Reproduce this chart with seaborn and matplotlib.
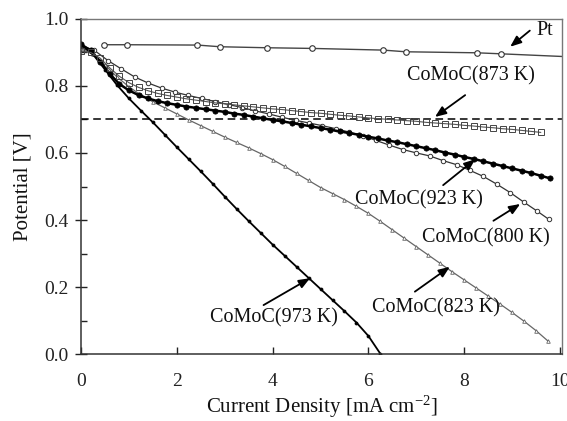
import matplotlib
matplotlib.use("Agg")
import matplotlib.pyplot as plt
import pandas as pd
import seaborn as sns

# values
pt_x = [0.48, 0.95, 2.43, 2.90, 3.88, 4.83, 6.31, 6.78, 8.26, 8.76, 10.05]
pt_v = [0.922, 0.922, 0.921, 0.916, 0.913, 0.911, 0.906, 0.901, 0.898, 0.895, 0.887]

k873_x = [0.0, 0.2, 0.4, 0.6, 0.8, 1.0, 1.2, 1.4, 1.6, 1.8,
          2.0, 2.2, 2.4, 2.6, 2.8, 3.0, 3.2, 3.4, 3.6, 3.8,
          4.0, 4.2, 4.4, 4.6, 4.8, 5.0, 5.2, 5.4, 5.6, 5.8,
          6.0, 6.2, 6.4, 6.6, 6.8, 7.0, 7.2, 7.4, 7.6, 7.8,
          8.0, 8.2, 8.4, 8.6, 8.8, 9.0, 9.2, 9.4, 9.6]
k873_v = [0.903, 0.899, 0.882, 0.853, 0.828, 0.809, 0.795, 0.785, 0.777, 0.771,
          0.766, 0.761, 0.757, 0.753, 0.749, 0.746, 0.743, 0.740, 0.737, 0.734,
          0.731, 0.729, 0.726, 0.723, 0.720, 0.718, 0.715, 0.712, 0.710, 0.707,
          0.704, 0.702, 0.700, 0.698, 0.696, 0.694, 0.691, 0.689, 0.687, 0.685,
          0.682, 0.680, 0.677, 0.675, 0.672, 0.670, 0.667, 0.664, 0.661]

k923_x = [0.0, 0.2, 0.4, 0.6, 0.8, 1.0, 1.2, 1.4, 1.6, 1.8,
          2.0, 2.2, 2.4, 2.6, 2.8, 3.0, 3.2, 3.4, 3.6, 3.8,
          4.0, 4.2, 4.4, 4.6, 4.8, 5.0, 5.2, 5.4, 5.6, 5.8,
          6.0, 6.2, 6.4, 6.6, 6.8, 7.0, 7.2, 7.4, 7.6, 7.8,
          8.0, 8.2, 8.4, 8.6, 8.8, 9.0, 9.2, 9.4, 9.6, 9.8]
k923_v = [0.923, 0.905, 0.872, 0.835, 0.805, 0.786, 0.772, 0.762, 0.754, 0.748,
          0.743, 0.738, 0.734, 0.730, 0.726, 0.722, 0.717, 0.713, 0.708, 0.703,
          0.698, 0.694, 0.689, 0.684, 0.679, 0.674, 0.669, 0.664, 0.659, 0.654,
          0.648, 0.643, 0.637, 0.632, 0.626, 0.620, 0.614, 0.608, 0.601, 0.595,
          0.588, 0.582, 0.575, 0.568, 0.561, 0.554, 0.547, 0.540, 0.532, 0.524]

k800_x = [0.0, 0.28, 0.56, 0.84, 1.12, 1.40, 1.68, 1.96, 2.24, 2.52,
          2.80, 3.08, 3.36, 3.64, 3.92, 4.20, 4.48, 4.76, 5.04, 5.32,
          5.60, 5.88, 6.16, 6.44, 6.72, 7.00, 7.28, 7.56, 7.84, 8.12,
          8.40, 8.68, 8.96, 9.24, 9.52, 9.77]
k800_v = [0.920, 0.905, 0.875, 0.850, 0.826, 0.808, 0.793, 0.781, 0.771, 0.762,
          0.753, 0.744, 0.735, 0.725, 0.716, 0.706, 0.697, 0.689, 0.681, 0.672,
          0.662, 0.651, 0.637, 0.623, 0.610, 0.600, 0.591, 0.577, 0.565, 0.548,
          0.530, 0.507, 0.482, 0.454, 0.427, 0.402]

k823_x = [0.0, 0.25, 0.5, 0.75, 1.0, 1.25, 1.5, 1.75, 2.0, 2.25,
          2.5, 2.75, 3.0, 3.25, 3.5, 3.75, 4.0, 4.25, 4.5, 4.75,
          5.0, 5.25, 5.5, 5.75, 6.0, 6.25, 6.5, 6.75, 7.0, 7.25,
          7.5, 7.75, 8.0, 8.25, 8.5, 8.75, 9.0, 9.25, 9.5, 9.75]
k823_v = [0.910, 0.893, 0.862, 0.826, 0.797, 0.772, 0.752, 0.734, 0.716, 0.698,
          0.681, 0.664, 0.647, 0.631, 0.615, 0.598, 0.580, 0.560, 0.539, 0.518,
          0.497, 0.479, 0.461, 0.441, 0.420, 0.396, 0.371, 0.346, 0.321, 0.296,
          0.271, 0.246, 0.222, 0.198, 0.174, 0.150, 0.125, 0.099, 0.071, 0.040]

k973_x = [0.0, 0.25, 0.5, 0.75, 1.0, 1.25, 1.5, 1.75, 2.0, 2.25,
          2.5, 2.75, 3.0, 3.25, 3.5, 3.75, 4.0, 4.25, 4.5, 4.75,
          5.0, 5.25, 5.5, 5.75, 6.0, 6.25]
k973_v = [0.920, 0.893, 0.848, 0.802, 0.762, 0.726, 0.691, 0.654, 0.617, 0.581,
          0.545, 0.508, 0.470, 0.433, 0.397, 0.362, 0.327, 0.294, 0.261, 0.228,
          0.195, 0.162, 0.129, 0.095, 0.055, 0.002]

ref_potential = 0.70

# label text, label centre, arrow tail, arrow tip
notes = [
    ("Pt", (9.50, 0.965), (9.37, 0.964), (8.96, 0.916)),
    ("CoMoC(873 K)", (8.14, 0.829), (8.02, 0.772), (7.39, 0.707)),
    ("CoMoC(923 K)", (7.06, 0.460), (7.56, 0.504), (8.23, 0.581)),
    ("CoMoC(800 K)", (8.46, 0.347), (8.61, 0.398), (9.17, 0.448)),
    ("CoMoC(823 K)", (7.41, 0.138), (6.97, 0.187), (7.70, 0.261)),
    ("CoMoC(973 K)", (4.03, 0.109), (3.81, 0.147), (4.78, 0.227)),
]

sns.set_style("ticks")
plt.rcParams["font.family"] = ["Liberation Serif", "DejaVu Serif"]
plt.rcParams["mathtext.default"] = "regular"

fig = plt.figure(figsize=(5.67, 4.21), dpi=100)
ax = fig.add_axes([0.143, 0.158, 0.848, 0.798])


def draw(xs, vs, **kw):
    df = pd.DataFrame({"j": xs, "E": vs})
    sns.lineplot(data=df, x="j", y="E", ax=ax, estimator=None, **kw)


draw(pt_x, pt_v, color="#444444", lw=1.0, marker="o", ms=4.0, mfc="white",
     mec="#333333", mew=0.8, markevery=list(range(len(pt_x) - 1)))
draw(k823_x, k823_v, color="#666666", lw=0.9, marker="^", ms=2.6, mfc="white",
     mec="#666666", mew=0.6)
draw(k973_x, k973_v, color="black", lw=1.3, marker="o", ms=2.2, mfc="black",
     mec="black", mew=0.5)
draw(k800_x, k800_v, color="#333333", lw=0.9, marker="o", ms=3.2, mfc="white",
     mec="#333333", mew=0.7)
draw(k923_x, k923_v, color="black", lw=1.8, marker="o", ms=3.8, mfc="black",
     mec="black", mew=0.5)
draw(k873_x, k873_v, color="#555555", lw=0.8, marker="s", ms=4.8, mfc="none",
     mec="#444444", mew=0.7)

ax.axhline(ref_potential, color="black", lw=1.1, ls=(0, (5, 3)), zorder=1)

for label, pos, tail, tip in notes:
    ax.annotate("", xy=tip, xytext=tail,
                arrowprops=dict(arrowstyle="-|>,head_length=0.55,head_width=0.22",
                                color="black", lw=1.3, mutation_scale=12,
                                shrinkA=0, shrinkB=0))
    ha = "left" if label == "Pt" else "center"
    ax.text(pos[0], pos[1], label, ha=ha, va="center", fontsize=14.5, color="#111111")

ax.set_xlim(0, 10.04)
ax.set_ylim(0, 1.0)
ax.set_xticks([0, 2, 4, 6, 8, 10])
ax.set_yticks([0.0, 0.2, 0.4, 0.6, 0.8, 1.0])
ax.set_yticks([0.1, 0.3, 0.5, 0.7, 0.9], minor=True)
ax.set_yticklabels(["0.0", "0.2", "0.4", "0.6", "0.8", "1.0"])
ax.tick_params(axis="x", direction="in", length=5, width=1.0, pad=13,
               labelsize=14, colors="#222222")
ax.tick_params(axis="y", which="major", direction="inout", length=9, width=1.0,
               pad=4.2, labelsize=14, colors="#222222")
ax.tick_params(axis="y", which="minor", direction="in", length=4.5, width=1.0,
               colors="#222222")

for side in ["left", "bottom"]:
    ax.spines[side].set_color("#333333")
    ax.spines[side].set_linewidth(1.1)
for side in ["top", "right"]:
    ax.spines[side].set_color("#777777")
    ax.spines[side].set_linewidth(1.0)

ax.set_xlabel("Current Density [mA cm$^{-2}$]", fontsize=15, color="#111111", labelpad=3)
ax.set_ylabel("Potential [V]", fontsize=15, color="#111111", labelpad=9)

fig.savefig("out.png", dpi=100)
